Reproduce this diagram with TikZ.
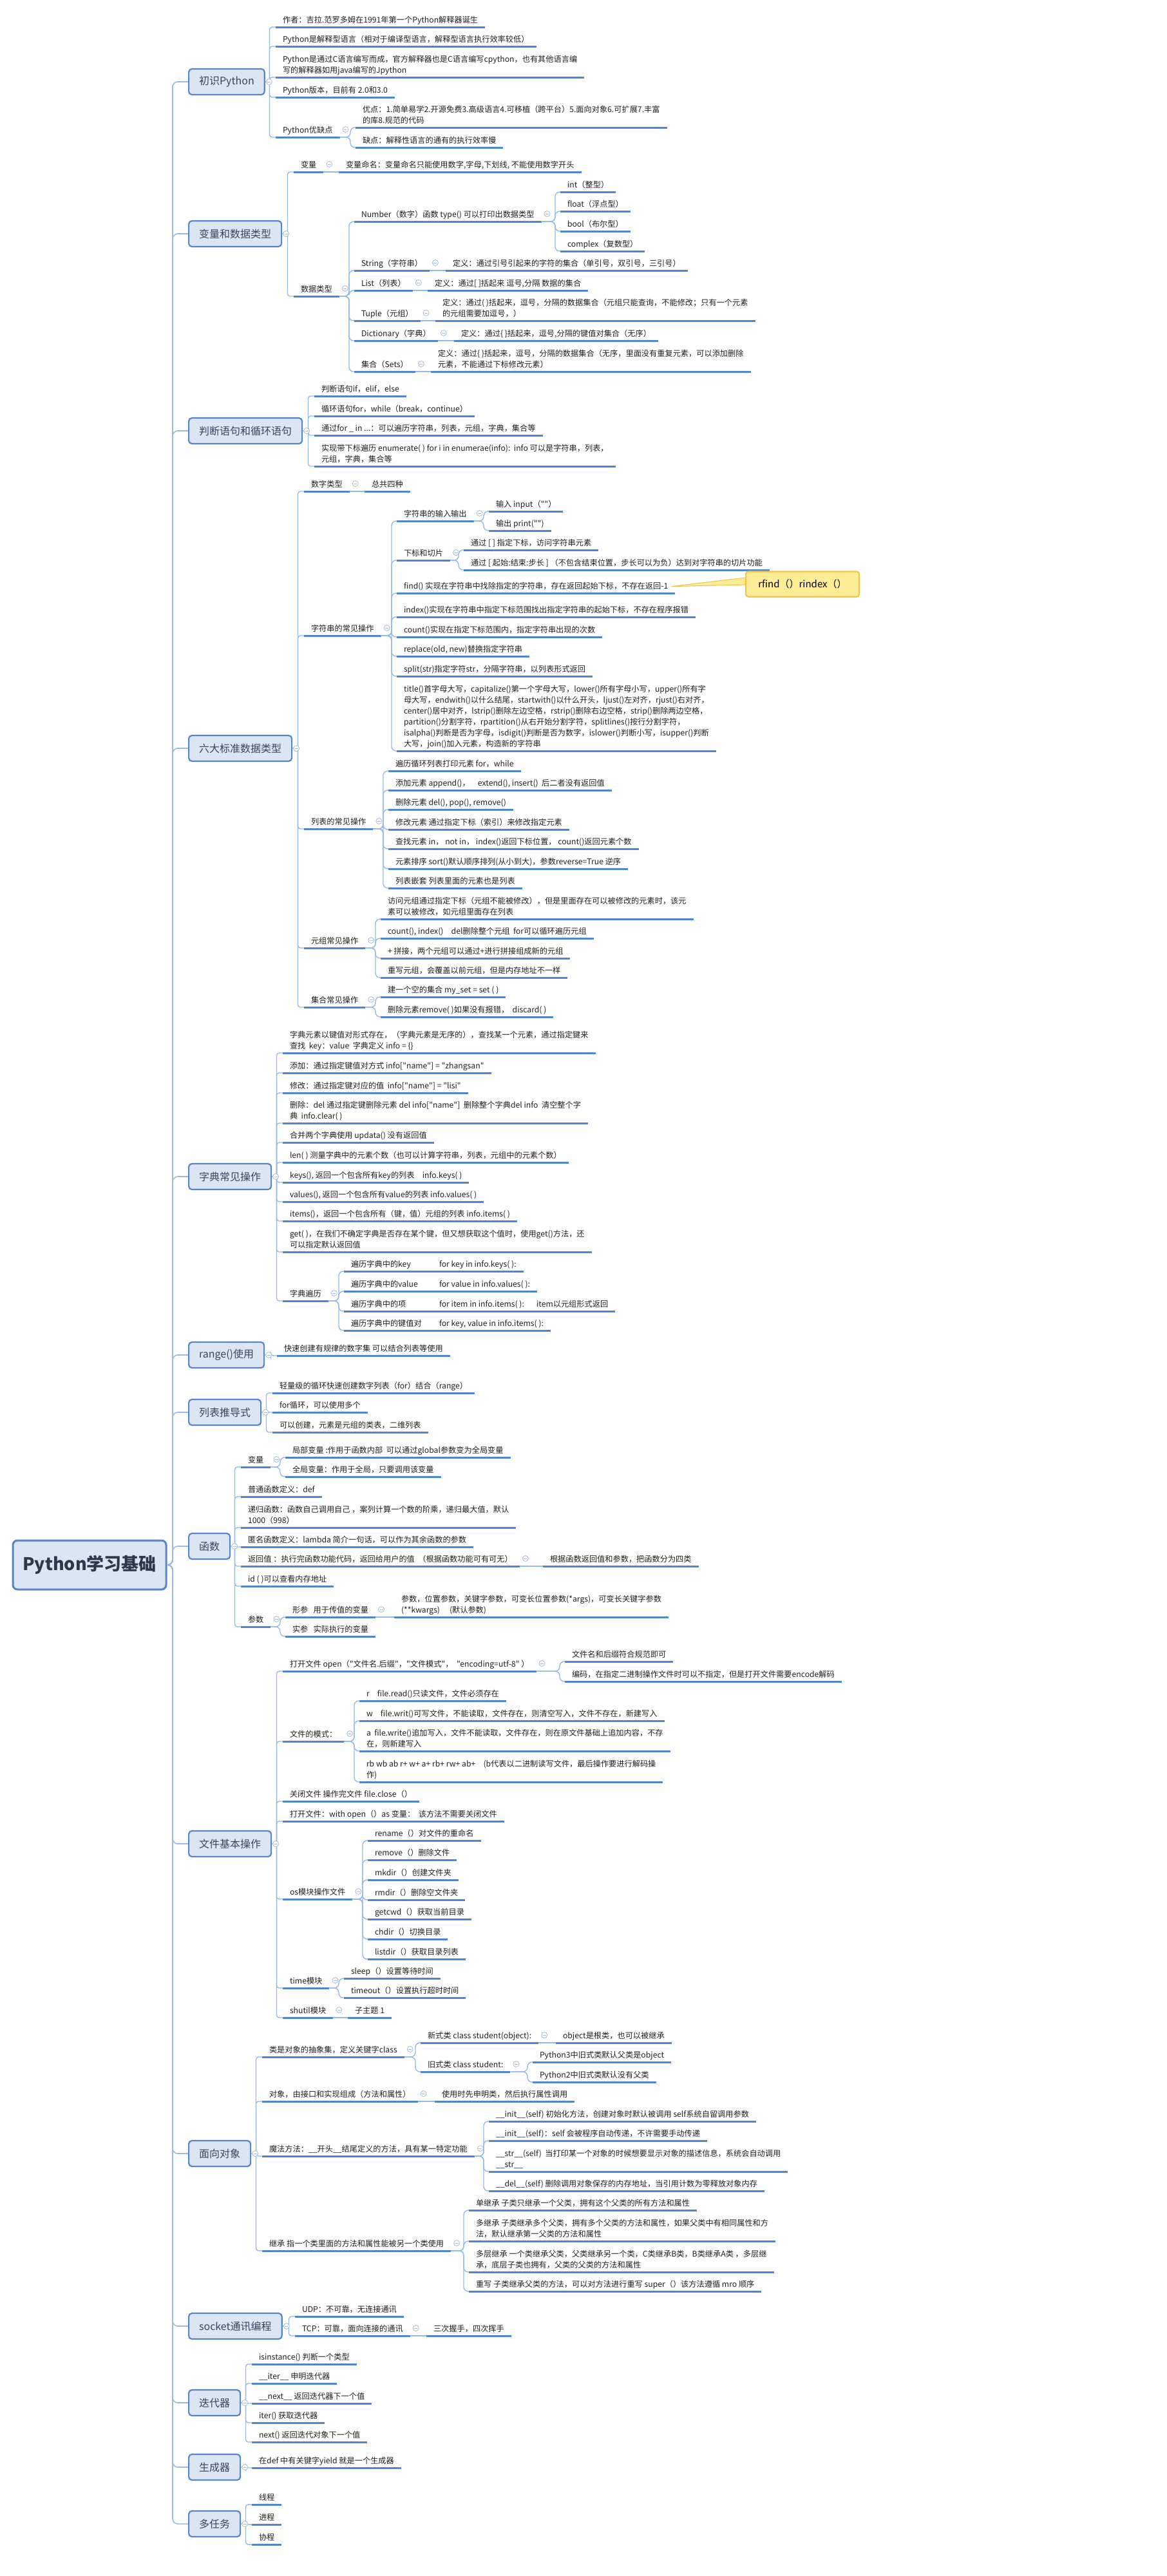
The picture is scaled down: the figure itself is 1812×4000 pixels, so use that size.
\documentclass[tikz,border=0pt]{standalone}
\usepackage{fontspec}
\setmainfont{Noto Sans CJK SC}[Ligatures=TeXOff]
\usepackage{tikz}
\usetikzlibrary{positioning,calc}
\definecolor{ulblue}{RGB}{80,134,205}
\definecolor{lnblue}{RGB}{150,186,230}
\definecolor{boxfill}{RGB}{219,229,243}
\definecolor{boxline}{RGB}{86,135,200}
\definecolor{boxtext}{RGB}{55,70,95}
\definecolor{foldc}{RGB}{165,188,218}
\definecolor{callfill}{RGB}{253,236,150}
\definecolor{callline}{RGB}{238,196,70}

\begin{document}
\begin{tikzpicture}[
    x=1pt, y=-1pt,
    rootbox/.style={rectangle, draw=boxline, fill=boxfill, line width=3pt, rounded corners=7pt, minimum width=238pt, minimum height=76pt, font=\fontsize{27}{32}\selectfont\bfseries, text=boxtext!80!black},
    topic/.style={rectangle, draw=boxline, fill=boxfill, line width=2.2pt, rounded corners=5pt, minimum height=40pt, inner xsep=16pt, anchor=west, font=\fontsize{16}{19}\selectfont, text=boxtext},
    leaf/.style={rectangle, inner xsep=11pt, inner ysep=3.5pt, outer sep=0pt, align=left, anchor=south west, font=\fontsize{12.2}{17}\selectfont, text=black!88, execute at end node={\rule[-3.5pt]{0pt}{0pt}}, append after command={(\tikzlastnode.south west) edge[uline] (\tikzlastnode.south east)}},
    uline/.style={draw=ulblue, line width=3pt},
    trunk/.style={draw=lnblue, line width=1.6pt, rounded corners=8pt},
    link/.style={draw=lnblue, line width=1.4pt, rounded corners=4pt},
    branch/.style={draw=lnblue, line width=1.4pt, rounded corners=7pt},
    fold/.style={circle, draw=foldc, fill=white, line width=0.8pt, minimum size=9pt, inner sep=0pt, path picture={\draw[foldc, line width=0.8pt] ([xshift=-2.5pt]path picture bounding box.center) -- ([xshift=2.5pt]path picture bounding box.center);}},
    callout/.style={rectangle, draw=callline, fill=callfill, line width=2pt, rounded corners=4pt, minimum width=176pt, minimum height=39pt, font=\fontsize{15}{18}\selectfont},
]

\fill[white] (0,0) rectangle (1812,4000);
\useasboundingbox (0,0) rectangle (1812,4000);

% === ROOT ===
\node[rootbox] (root) at (139,2430) {Python学习基础};

% === 初识Python ===
\node[topic] (intro) at (292,127) {初识Python};
\node[leaf] (intro_author) at (428,42) {作者：吉拉.范罗多姆在1991年第一个Python解释器诞生};
\node[leaf] (intro_interp) at (428,72) {Python是解释型语言（相对于编译型语言，解释型语言执行效率较低）};
\node[leaf] (intro_cpy) at (428,120) {Python是通过C语言编写而成，官方解释器也是C语言编写cpython，也有其他语言编\\写的解释器如用java编写的Jpython};
\node[leaf] (intro_ver) at (428,151) {Python版本，目前有 2.0和3.0};
\node[leaf] (intro_pc) at (428,213) {Python优缺点};
\node[leaf] (pc_good) at (552,198) {优点：1.简单易学2.开源免费3.高级语言4.可移植（跨平台）5.面向对象6.可扩展7.丰富\\的库8.规范的代码};
\node[leaf] (pc_bad) at (552,229) {缺点：解释性语言的通有的执行效率慢};

% === 变量和数据类型 ===
\node[topic] (vars) at (292,363) {变量和数据类型};
\node[leaf] (var) at (456,267) {变量};
\node[leaf] (var_name) at (526,267) {变量命名：变量命名只能使用数字,字母,下划线, 不能使用数字开头};
\node[leaf] (dtype) at (456,460) {数据类型};
\node[leaf] (dt_num) at (550,344) {Number（数字）函数 type() 可以打印出数据类型};
\node[leaf] (num_int) at (870,298) {int（整型）};
\node[leaf] (num_float) at (870,328) {float（浮点型）};
\node[leaf] (num_bool) at (870,359) {bool（布尔型）};
\node[leaf] (num_cplx) at (870,390) {complex（复数型）};
\node[leaf] (dt_str) at (550,420) {String（字符串）};
\node[leaf] (str_def) at (692,420) {定义：通过引号引起来的字符的集合（单引号，双引号，三引号）};
\node[leaf] (dt_list) at (550,451) {List（列表）};
\node[leaf] (list_def) at (664,451) {定义：通过[ ]括起来 逗号,分隔 数据的集合};
\node[leaf] (dt_tuple) at (550,498) {Tuple（元组）};
\node[leaf] (tuple_def) at (676,498) {定义：通过( )括起来，逗号，分隔的数据集合（元组只能查询，不能修改；只有一个元素\\的元组需要加逗号，）};
\node[leaf] (dt_dict) at (550,529) {Dictionary（字典）};
\node[leaf] (dict_def) at (705,529) {定义：通过\{ \}括起来，逗号,分隔的键值对集合（无序）};
\node[leaf] (dt_set) at (550,577) {集合（Sets）};
\node[leaf] (set_def) at (669,577) {定义：通过\{ \}括起来，逗号，分隔的数据集合（无序，里面没有重复元素，可以添加删除\\元素，不能通过下标修改元素）};

% === 判断语句和循环语句 ===
\node[topic] (flow) at (292,669) {判断语句和循环语句};
\node[leaf] (flow_if) at (488,615) {判断语句if，elif，else};
\node[leaf] (flow_loop) at (488,646) {循环语句for，while（break，continue）};
\node[leaf] (flow_forin) at (488,676) {通过for \_ in ...：可以遍历字符串，列表，元组，字典，集合等};
\node[leaf] (flow_enum) at (488,724) {实现带下标遍历 enumerate( ) for i in enumerae(info):\ \ info 可以是字符串，列表，\\元组，字典，集合等};

% === 六大标准数据类型 ===
\node[topic] (stdtypes) at (292,1162) {六大标准数据类型};
\node[leaf] (st_num) at (472,763) {数字类型};
\node[leaf] (num_four) at (566,763) {总共四种};
\node[leaf] (st_str) at (472,987) {字符串的常见操作};
\node[leaf] (str_io) at (616,809) {字符串的输入输出};
\node[leaf] (io_in) at (759,794) {输入 input（""）};
\node[leaf] (io_out) at (759,824) {输出 print("")};
\node[leaf] (str_slice) at (616,870) {下标和切片};
\node[leaf] (slice_idx) at (720,854) {通过 [ ] 指定下标，访问字符串元素};
\node[leaf] (slice_step) at (720,885) {通过 [ 起始:结束:步长 ] （不包含结束位置，步长可以为负）达到对字符串的切片功能};
\node[leaf] (str_find) at (616,921) {find() 实现在字符串中找除指定的字符串，存在返回起始下标，不存在返回-1};
\node[leaf] (str_index) at (616,958) {index()实现在字符串中指定下标范围找出指定字符串的起始下标，不存在程序报错};
\node[leaf] (str_count) at (616,989) {count()实现在指定下标范围内，指定字符串出现的次数};
\node[leaf] (str_replace) at (616,1019) {replace(old, new)替换指定字符串};
\node[leaf] (str_split) at (616,1050) {split(str)指定字符str，分隔字符串，以列表形式返回};
\node[leaf] (str_case) at (616,1166) {title()首字母大写，capitalize()第一个字母大写，lower()所有字母小写，upper()所有字\\母大写，endwith()以什么结尾，startwith()以什么开头，ljust()左对齐，rjust()右对齐，\\center()居中对齐，lstrip()删除左边空格，rstrip()删除右边空格，strip()删除两边空格，\\partition()分割字符，rpartition()从右开始分割字符，splitlines()按行分割字符，\\isalpha()判断是否为字母，isdigit()判断是否为数字，islower()判断小写，isupper()判断\\大写，join()加入元素，构造新的字符串};
\node[leaf] (st_list) at (472,1287) {列表的常见操作};
\node[leaf] (list_loop) at (603,1197) {遍历循环列表打印元素 for，while};
\node[leaf] (list_add) at (603,1227) {添加元素 append()，\quad extend(), insert()\ \ 后二者没有返回值};
\node[leaf] (list_del) at (603,1257) {删除元素 del(), pop(), remove()};
\node[leaf] (list_mod) at (603,1288) {修改元素 通过指定下标（索引）来修改指定元素};
\node[leaf] (list_find) at (603,1318) {查找元素 in， not in， index()返回下标位置， count()返回元素个数};
\node[leaf] (list_sort) at (603,1349) {元素排序 sort()默认顺序排列(从小到大)，参数reverse=True 逆序};
\node[leaf] (list_nest) at (603,1379) {列表嵌套 列表里面的元素也是列表};
\node[leaf] (st_tuple) at (472,1472) {元组常见操作};
\node[leaf] (tup_access) at (591,1427) {访问元组通过指定下标（元组不能被修改），但是里面存在可以被修改的元素时，该元\\素可以被修改，如元组里面存在列表};
\node[leaf] (tup_count) at (591,1457) {count(), index()\quad del删除整个元组\ \ for可以循环遍历元组};
\node[leaf] (tup_concat) at (591,1488) {+ 拼接，两个元组可以通过+进行拼接组成新的元组};
\node[leaf] (tup_rewrite) at (591,1518) {重写元组，会覆盖以前元组，但是内存地址不一样};
\node[leaf] (st_set) at (472,1564) {集合常见操作};
\node[leaf] (set_new) at (591,1548) {建一个空的集合 my\_set = set ( )};
\node[leaf] (set_del) at (591,1579) {删除元素remove( )如果没有报错，\ \ discard( )};

% === 字典常见操作 ===
\node[topic] (dict) at (292,1827) {字典常见操作};
\node[leaf] (dict_kv) at (439,1635) {字典元素以键值对形式存在，（字典元素是无序的），查找某一个元素，通过指定键来\\查找\ \ key：value\ \ 字典定义 info = \{\}};
\node[leaf] (dict_add) at (439,1666) {添加：通过指定键值对方式 info["name"] = "zhangsan"};
\node[leaf] (dict_mod) at (439,1697) {修改：通过指定键对应的值\ \ info["name"] = "lisi"};
\node[leaf] (dict_del) at (439,1744) {删除：del 通过指定键删除元素 del info["name"]\ \ 删除整个字典del info\ \ 清空整个字\\典\ \ info.clear( )};
\node[leaf] (dict_merge) at (439,1774) {合并两个字典使用 updata() 没有返回值};
\node[leaf] (dict_len) at (439,1805) {len( ) 测量字典中的元素个数（也可以计算字符串，列表，元组中的元素个数）};
\node[leaf] (dict_keys) at (439,1836) {keys(), 返回一个包含所有key的列表\quad info.keys( )};
\node[leaf] (dict_vals) at (439,1866) {values(), 返回一个包含所有value的列表 info.values( )};
\node[leaf] (dict_items) at (439,1896) {items()，返回一个包含所有（键，值）元组的列表 info.items( )};
\node[leaf] (dict_get) at (439,1944) {get( )，在我们不确定字典是否存在某个键，但又想获取这个值时，使用get()方法，还\\可以指定默认返回值};
\node[leaf] (dict_walk) at (439,2020) {字典遍历};
\node[leaf] (walk_key) at (534,1974) {\makebox[137pt][l]{遍历字典中的key}for key in info.keys( ):};
\node[leaf] (walk_val) at (534,2005) {\makebox[137pt][l]{遍历字典中的value}for value in info.values( ):};
\node[leaf] (walk_item) at (534,2036) {\makebox[137pt][l]{遍历字典中的项}\makebox[151pt][l]{for item in info.items( ):}item以元组形式返回};
\node[leaf] (walk_pair) at (534,2066) {\makebox[137pt][l]{遍历字典中的键值对}for key, value in info.items( ):};

% === range()使用 ===
\node[topic] (range) at (292,2104) {range()使用};
\node[leaf] (range_desc) at (430,2105) {快速创建有规律的数字集 可以结合列表等使用};

% === 列表推导式 ===
\node[topic] (listcomp) at (292,2193) {列表推导式};
\node[leaf] (lc_fast) at (423,2163) {轻量级的循环快速创建数字列表（for）结合（range）};
\node[leaf] (lc_for) at (423,2193) {for循环，可以使用多个};
\node[leaf] (lc_tuple) at (423,2224) {可以创建，元素是元组的类表，二维列表};

% === 函数 ===
\node[topic] (func) at (292,2401) {函数};
\node[leaf] (fn_var) at (374,2278) {变量};
\node[leaf] (fn_local) at (443,2263) {局部变量 :作用于函数内部\ \ 可以通过global参数变为全局变量};
\node[leaf] (fn_global) at (443,2293) {全局变量：作用于全局，只要调用该变量};
\node[leaf] (fn_def) at (374,2324) {普通函数定义：def};
\node[leaf] (fn_rec) at (374,2372) {递归函数：函数自己调用自己 ，案列计算一个数的阶乘，递归最大值，默认\\1000（998）};
\node[leaf] (fn_lambda) at (374,2402) {匿名函数定义：lambda 简介一句话，可以作为其余函数的参数};
\node[leaf] (fn_ret) at (374,2432) {返回值 ：执行完函数功能代码，返回给用户的值\ \ （根据函数功能可有可无）};
\node[leaf] (ret_four) at (843,2432) {根据函数返回值和参数，把函数分为四类};
\node[leaf] (fn_id) at (374,2463) {id ( )可以查看内存地址};
\node[leaf] (fn_arg) at (374,2526) {参数};
\node[leaf] (arg_formal) at (443,2511) {形参\ \ \ 用于传值的变量};
\node[leaf] (formal_kinds) at (612,2511) {参数，位置参数，关键字参数，可变长位置参数(*args)，可变长关键字参数\\(**kwargs)\quad\ (默认参数)};
\node[leaf] (arg_actual) at (443,2541) {实参\ \ \ 实际执行的变量};

% === 文件基本操作 ===
\node[topic] (fileop) at (292,2863) {文件基本操作};
\node[leaf] (f_open) at (439,2595) {打开文件 open（"文件名.后缀"，"文件模式"，\ \ "encoding=utf-8" ）};
\node[leaf] (open_name) at (877,2580) {文件名和后缀符合规范即可};
\node[leaf] (open_enc) at (877,2611) {编码，在指定二进制操作文件时可以不指定，但是打开文件需要encode解码};
\node[leaf] (f_mode) at (439,2704) {文件的模式：};
\node[leaf] (mode_r) at (558,2641) {r\quad file.read()只读文件，文件必须存在};
\node[leaf] (mode_w) at (558,2672) {w\quad file.writ()可写文件，不能读取，文件存在，则清空写入，文件不存在，新建写入};
\node[leaf] (mode_a) at (558,2719) {a\ \ file.write()追加写入，文件不能读取，文件存在，则在原文件基础上追加内容，不存\\在，则新建写入};
\node[leaf] (mode_b) at (558,2767) {rb wb ab r+ w+ a+ rb+ rw+ ab+\quad (b代表以二进制读写文件，最后操作要进行解码操\\作)};
\node[leaf] (f_close) at (439,2797) {关闭文件 操作完文件 file.close（）};
\node[leaf] (f_with) at (439,2828) {打开文件：with open（）as 变量：\ \ 该方法不需要关闭文件};
\node[leaf] (f_os) at (439,2949) {os模块操作文件};
\node[leaf] (os_rename) at (571,2858) {rename（）对文件的重命名};
\node[leaf] (os_remove) at (571,2888) {remove（）删除文件};
\node[leaf] (os_mkdir) at (571,2919) {mkdir（）创建文件夹};
\node[leaf] (os_rmdir) at (571,2950) {rmdir（）删除空文件夹};
\node[leaf] (os_getcwd) at (571,2980) {getcwd（）获取当前目录};
\node[leaf] (os_chdir) at (571,3011) {chdir（）切换目录};
\node[leaf] (os_listdir) at (571,3042) {listdir（）获取目录列表};
\node[leaf] (f_time) at (439,3087) {time模块};
\node[leaf] (time_sleep) at (534,3072) {sleep（）设置等待时间};
\node[leaf] (time_out) at (534,3102) {timeout（）设置执行超时时间};
\node[leaf] (f_shutil) at (439,3133) {shutil模块};
\node[leaf] (shutil_sub) at (540,3133) {子主题 1};

% === 面向对象 ===
\node[topic] (oop) at (292,3344) {面向对象};
\node[leaf] (oop_class) at (407,3194) {类是对象的抽象集，定义关键字class};
\node[leaf] (cls_new) at (653,3172) {新式类 class student(object):};
\node[leaf] (new_root) at (863,3172) {object是根类，也可以被继承};
\node[leaf] (cls_old) at (653,3217) {旧式类 class student:};
\node[leaf] (old_py3) at (827,3202) {Python3中旧式类默认父类是object};
\node[leaf] (old_py2) at (827,3233) {Python2中旧式类默认没有父类};
\node[leaf] (oop_obj) at (407,3263) {对象，由接口和实现组成（方法和属性）};
\node[leaf] (obj_use) at (675,3263) {使用时先申明类，然后执行属性调用};
\node[leaf] (oop_magic) at (407,3348) {魔法方法：\_\_开头\_\_结尾定义的方法，具有某一特定功能};
\node[leaf] (mg_init) at (759,3294) {\_\_init\_\_(self) 初始化方法，创建对象时默认被调用 self系统自留调用参数};
\node[leaf] (mg_self) at (759,3324) {\_\_init\_\_(self)：self 会被程序自动传递，不许需要手动传递};
\node[leaf] (mg_str) at (759,3372) {\_\_str\_\_(self)\ \ 当打印某一个对象的时候想要显示对象的描述信息，系统会自动调用\\\_\_str\_\_};
\node[leaf] (mg_del) at (759,3402) {\_\_del\_\_(self) 删除调用对象保存的内存地址，当引用计数为零释放对象内存};
\node[leaf] (oop_inh) at (407,3495) {继承 指一个类里面的方法和属性能被另一个类使用};
\node[leaf] (inh_single) at (728,3432) {单继承 子类只继承一个父类，拥有这个父类的所有方法和属性};
\node[leaf] (inh_multi) at (728,3480) {多继承 子类继承多个父类，拥有多个父类的方法和属性，如果父类中有相同属性和方\\法，默认继承第一父类的方法和属性};
\node[leaf] (inh_level) at (728,3528) {多层继承 一个类继承父类，父类继承另一个类，C类继承B类，B类继承A类 ，多层继\\承，底层子类也拥有，父类的父类的方法和属性};
\node[leaf] (inh_over) at (728,3558) {重写 子类继承父类的方法，可以对方法进行重写 super（）该方法遵循 mro 顺序};

% === socket通讯编程 ===
\node[topic] (socket) at (292,3612) {socket通讯编程};
\node[leaf] (sk_udp) at (458,3597) {UDP：不可靠，无连接通讯};
\node[leaf] (sk_tcp) at (458,3627) {TCP：可靠，面向连接的通讯};
\node[leaf] (tcp_hand) at (662,3627) {三次握手，四次挥手};

% === 迭代器 / 生成器 / 多任务 ===
\node[topic] (iter) at (292,3731) {迭代器};
\node[leaf] (it_isinst) at (391,3671) {isinstance() 判断一个类型};
\node[leaf] (it_iter) at (391,3701) {\_\_iter\_\_ 申明迭代器};
\node[leaf] (it_next) at (391,3732) {\_\_next\_\_ 返回迭代器下一个值};
\node[leaf] (it_iterfn) at (391,3762) {iter() 获取迭代器};
\node[leaf] (it_nextfn) at (391,3792) {next() 返回迭代对象下一个值};
\node[topic] (gen) at (292,3831) {生成器};
\node[leaf] (gen_yield) at (391,3832) {在def 中有关键字yield 就是一个生成器};
\node[topic] (multi) at (292,3919) {多任务};
\node[leaf] (mt_thread) at (391,3889) {线程};
\node[leaf] (mt_proc) at (391,3920) {进程};
\node[leaf] (mt_coro) at (391,3951) {协程};

% === CALLOUT ===
\node[callout] (rfind) at (1246,907) {rfind（）rindex（）};
\filldraw[fill=callfill, draw=callline, line width=1pt] ([xshift=-6]str_find.east) -- ([yshift=10]rfind.west) -- ([yshift=-1]rfind.west) -- cycle;
\node[callout] at (rfind) {rfind（）rindex（）};

% === TRUNK ===
\draw[trunk] (root.east) -| ([xshift=-24]intro.west) -- (intro.west);
\draw[trunk] (root.east) -| ([xshift=-24]vars.west) -- (vars.west);
\draw[trunk] (root.east) -| ([xshift=-24]flow.west) -- (flow.west);
\draw[trunk] (root.east) -| ([xshift=-24]stdtypes.west) -- (stdtypes.west);
\draw[trunk] (root.east) -| ([xshift=-24]dict.west) -- (dict.west);
\draw[trunk] (root.east) -| ([xshift=-24]range.west) -- (range.west);
\draw[trunk] (root.east) -| ([xshift=-24]listcomp.west) -- (listcomp.west);
\draw[trunk] (root.east) -| ([xshift=-24]func.west) -- (func.west);
\draw[trunk] (root.east) -| ([xshift=-24]fileop.west) -- (fileop.west);
\draw[trunk] (root.east) -| ([xshift=-24]oop.west) -- (oop.west);
\draw[trunk] (root.east) -| ([xshift=-24]socket.west) -- (socket.west);
\draw[trunk] (root.east) -| ([xshift=-24]iter.west) -- (iter.west);
\draw[trunk] (root.east) -| ([xshift=-24]gen.west) -- (gen.west);
\draw[trunk] (root.east) -| ([xshift=-24]multi.west) -- (multi.west);

% === LINKS ===
\draw[link] (intro.east) -| ([xshift=-9.5]intro_author.south west) -- (intro_author.south west);
\draw[link] (intro.east) -| ([xshift=-9.5]intro_interp.south west) -- (intro_interp.south west);
\draw[link] (intro.east) -| ([xshift=-9.5]intro_cpy.south west) -- (intro_cpy.south west);
\draw[link] (intro.east) -| ([xshift=-9.5]intro_ver.south west) -- (intro_ver.south west);
\draw[link] (intro.east) -| ([xshift=-9.5]intro_pc.south west) -- (intro_pc.south west);
\draw[branch] (intro_pc.south east) -| ([xshift=-8]pc_good.south west) -- (pc_good.south west);
\draw[branch] (intro_pc.south east) -| ([xshift=-8]pc_bad.south west) -- (pc_bad.south west);

\draw[link] (vars.east) -| ([xshift=-9.5]var.south west) -- (var.south west);
\draw[link] (vars.east) -| ([xshift=-9.5]dtype.south west) -- (dtype.south west);
\draw[branch] (var.south east) -- (var_name.south west);
\draw[branch] (dtype.south east) -| ([xshift=-8]dt_num.south west) -- (dt_num.south west);
\draw[branch] (dtype.south east) -| ([xshift=-8]dt_str.south west) -- (dt_str.south west);
\draw[branch] (dtype.south east) -| ([xshift=-8]dt_list.south west) -- (dt_list.south west);
\draw[branch] (dtype.south east) -| ([xshift=-8]dt_tuple.south west) -- (dt_tuple.south west);
\draw[branch] (dtype.south east) -| ([xshift=-8]dt_dict.south west) -- (dt_dict.south west);
\draw[branch] (dtype.south east) -| ([xshift=-8]dt_set.south west) -- (dt_set.south west);
\draw[branch] (dt_num.south east) -| ([xshift=-8]num_int.south west) -- (num_int.south west);
\draw[branch] (dt_num.south east) -| ([xshift=-8]num_float.south west) -- (num_float.south west);
\draw[branch] (dt_num.south east) -| ([xshift=-8]num_bool.south west) -- (num_bool.south west);
\draw[branch] (dt_num.south east) -| ([xshift=-8]num_cplx.south west) -- (num_cplx.south west);
\draw[branch] (dt_str.south east) -- (str_def.south west);
\draw[branch] (dt_list.south east) -- (list_def.south west);
\draw[branch] (dt_tuple.south east) -- (tuple_def.south west);
\draw[branch] (dt_dict.south east) -- (dict_def.south west);
\draw[branch] (dt_set.south east) -- (set_def.south west);

\draw[link] (flow.east) -| ([xshift=-9.5]flow_if.south west) -- (flow_if.south west);
\draw[link] (flow.east) -| ([xshift=-9.5]flow_loop.south west) -- (flow_loop.south west);
\draw[link] (flow.east) -| ([xshift=-9.5]flow_forin.south west) -- (flow_forin.south west);
\draw[link] (flow.east) -| ([xshift=-9.5]flow_enum.south west) -- (flow_enum.south west);

\draw[link] (stdtypes.east) -| ([xshift=-9.5]st_num.south west) -- (st_num.south west);
\draw[link] (stdtypes.east) -| ([xshift=-9.5]st_str.south west) -- (st_str.south west);
\draw[link] (stdtypes.east) -| ([xshift=-9.5]st_list.south west) -- (st_list.south west);
\draw[link] (stdtypes.east) -| ([xshift=-9.5]st_tuple.south west) -- (st_tuple.south west);
\draw[link] (stdtypes.east) -| ([xshift=-9.5]st_set.south west) -- (st_set.south west);
\draw[branch] (st_num.south east) -- (num_four.south west);
\draw[branch] (st_str.south east) -| ([xshift=-8]str_io.south west) -- (str_io.south west);
\draw[branch] (st_str.south east) -| ([xshift=-8]str_slice.south west) -- (str_slice.south west);
\draw[branch] (st_str.south east) -| ([xshift=-8]str_find.south west) -- (str_find.south west);
\draw[branch] (st_str.south east) -| ([xshift=-8]str_index.south west) -- (str_index.south west);
\draw[branch] (st_str.south east) -| ([xshift=-8]str_count.south west) -- (str_count.south west);
\draw[branch] (st_str.south east) -| ([xshift=-8]str_replace.south west) -- (str_replace.south west);
\draw[branch] (st_str.south east) -| ([xshift=-8]str_split.south west) -- (str_split.south west);
\draw[branch] (st_str.south east) -| ([xshift=-8]str_case.south west) -- (str_case.south west);
\draw[branch] (str_io.south east) -| ([xshift=-8]io_in.south west) -- (io_in.south west);
\draw[branch] (str_io.south east) -| ([xshift=-8]io_out.south west) -- (io_out.south west);
\draw[branch] (str_slice.south east) -| ([xshift=-8]slice_idx.south west) -- (slice_idx.south west);
\draw[branch] (str_slice.south east) -| ([xshift=-8]slice_step.south west) -- (slice_step.south west);
\draw[branch] (st_list.south east) -| ([xshift=-8]list_loop.south west) -- (list_loop.south west);
\draw[branch] (st_list.south east) -| ([xshift=-8]list_add.south west) -- (list_add.south west);
\draw[branch] (st_list.south east) -| ([xshift=-8]list_del.south west) -- (list_del.south west);
\draw[branch] (st_list.south east) -| ([xshift=-8]list_mod.south west) -- (list_mod.south west);
\draw[branch] (st_list.south east) -| ([xshift=-8]list_find.south west) -- (list_find.south west);
\draw[branch] (st_list.south east) -| ([xshift=-8]list_sort.south west) -- (list_sort.south west);
\draw[branch] (st_list.south east) -| ([xshift=-8]list_nest.south west) -- (list_nest.south west);
\draw[branch] (st_tuple.south east) -| ([xshift=-8]tup_access.south west) -- (tup_access.south west);
\draw[branch] (st_tuple.south east) -| ([xshift=-8]tup_count.south west) -- (tup_count.south west);
\draw[branch] (st_tuple.south east) -| ([xshift=-8]tup_concat.south west) -- (tup_concat.south west);
\draw[branch] (st_tuple.south east) -| ([xshift=-8]tup_rewrite.south west) -- (tup_rewrite.south west);
\draw[branch] (st_set.south east) -| ([xshift=-8]set_new.south west) -- (set_new.south west);
\draw[branch] (st_set.south east) -| ([xshift=-8]set_del.south west) -- (set_del.south west);

\draw[link] (dict.east) -| ([xshift=-9.5]dict_kv.south west) -- (dict_kv.south west);
\draw[link] (dict.east) -| ([xshift=-9.5]dict_add.south west) -- (dict_add.south west);
\draw[link] (dict.east) -| ([xshift=-9.5]dict_mod.south west) -- (dict_mod.south west);
\draw[link] (dict.east) -| ([xshift=-9.5]dict_del.south west) -- (dict_del.south west);
\draw[link] (dict.east) -| ([xshift=-9.5]dict_merge.south west) -- (dict_merge.south west);
\draw[link] (dict.east) -| ([xshift=-9.5]dict_len.south west) -- (dict_len.south west);
\draw[link] (dict.east) -| ([xshift=-9.5]dict_keys.south west) -- (dict_keys.south west);
\draw[link] (dict.east) -| ([xshift=-9.5]dict_vals.south west) -- (dict_vals.south west);
\draw[link] (dict.east) -| ([xshift=-9.5]dict_items.south west) -- (dict_items.south west);
\draw[link] (dict.east) -| ([xshift=-9.5]dict_get.south west) -- (dict_get.south west);
\draw[link] (dict.east) -| ([xshift=-9.5]dict_walk.south west) -- (dict_walk.south west);
\draw[branch] (dict_walk.south east) -| ([xshift=-8]walk_key.south west) -- (walk_key.south west);
\draw[branch] (dict_walk.south east) -| ([xshift=-8]walk_val.south west) -- (walk_val.south west);
\draw[branch] (dict_walk.south east) -| ([xshift=-8]walk_item.south west) -- (walk_item.south west);
\draw[branch] (dict_walk.south east) -| ([xshift=-8]walk_pair.south west) -- (walk_pair.south west);

\draw[link] (range.east) -| ([xshift=-9.5]range_desc.south west) -- (range_desc.south west);

\draw[link] (listcomp.east) -| ([xshift=-9.5]lc_fast.south west) -- (lc_fast.south west);
\draw[link] (listcomp.east) -| ([xshift=-9.5]lc_for.south west) -- (lc_for.south west);
\draw[link] (listcomp.east) -| ([xshift=-9.5]lc_tuple.south west) -- (lc_tuple.south west);

\draw[link] (func.east) -| ([xshift=-9.5]fn_var.south west) -- (fn_var.south west);
\draw[link] (func.east) -| ([xshift=-9.5]fn_def.south west) -- (fn_def.south west);
\draw[link] (func.east) -| ([xshift=-9.5]fn_rec.south west) -- (fn_rec.south west);
\draw[link] (func.east) -| ([xshift=-9.5]fn_lambda.south west) -- (fn_lambda.south west);
\draw[link] (func.east) -| ([xshift=-9.5]fn_ret.south west) -- (fn_ret.south west);
\draw[link] (func.east) -| ([xshift=-9.5]fn_id.south west) -- (fn_id.south west);
\draw[link] (func.east) -| ([xshift=-9.5]fn_arg.south west) -- (fn_arg.south west);
\draw[branch] (fn_var.south east) -| ([xshift=-8]fn_local.south west) -- (fn_local.south west);
\draw[branch] (fn_var.south east) -| ([xshift=-8]fn_global.south west) -- (fn_global.south west);
\draw[branch] (fn_ret.south east) -- (ret_four.south west);
\draw[branch] (fn_arg.south east) -| ([xshift=-8]arg_formal.south west) -- (arg_formal.south west);
\draw[branch] (fn_arg.south east) -| ([xshift=-8]arg_actual.south west) -- (arg_actual.south west);
\draw[branch] (arg_formal.south east) -- (formal_kinds.south west);

\draw[link] (fileop.east) -| ([xshift=-9.5]f_open.south west) -- (f_open.south west);
\draw[link] (fileop.east) -| ([xshift=-9.5]f_mode.south west) -- (f_mode.south west);
\draw[link] (fileop.east) -| ([xshift=-9.5]f_close.south west) -- (f_close.south west);
\draw[link] (fileop.east) -| ([xshift=-9.5]f_with.south west) -- (f_with.south west);
\draw[link] (fileop.east) -| ([xshift=-9.5]f_os.south west) -- (f_os.south west);
\draw[link] (fileop.east) -| ([xshift=-9.5]f_time.south west) -- (f_time.south west);
\draw[link] (fileop.east) -| ([xshift=-9.5]f_shutil.south west) -- (f_shutil.south west);
\draw[branch] (f_open.south east) -| ([xshift=-8]open_name.south west) -- (open_name.south west);
\draw[branch] (f_open.south east) -| ([xshift=-8]open_enc.south west) -- (open_enc.south west);
\draw[branch] (f_mode.south east) -| ([xshift=-8]mode_r.south west) -- (mode_r.south west);
\draw[branch] (f_mode.south east) -| ([xshift=-8]mode_w.south west) -- (mode_w.south west);
\draw[branch] (f_mode.south east) -| ([xshift=-8]mode_a.south west) -- (mode_a.south west);
\draw[branch] (f_mode.south east) -| ([xshift=-8]mode_b.south west) -- (mode_b.south west);
\draw[branch] (f_os.south east) -| ([xshift=-8]os_rename.south west) -- (os_rename.south west);
\draw[branch] (f_os.south east) -| ([xshift=-8]os_remove.south west) -- (os_remove.south west);
\draw[branch] (f_os.south east) -| ([xshift=-8]os_mkdir.south west) -- (os_mkdir.south west);
\draw[branch] (f_os.south east) -| ([xshift=-8]os_rmdir.south west) -- (os_rmdir.south west);
\draw[branch] (f_os.south east) -| ([xshift=-8]os_getcwd.south west) -- (os_getcwd.south west);
\draw[branch] (f_os.south east) -| ([xshift=-8]os_chdir.south west) -- (os_chdir.south west);
\draw[branch] (f_os.south east) -| ([xshift=-8]os_listdir.south west) -- (os_listdir.south west);
\draw[branch] (f_time.south east) -| ([xshift=-8]time_sleep.south west) -- (time_sleep.south west);
\draw[branch] (f_time.south east) -| ([xshift=-8]time_out.south west) -- (time_out.south west);
\draw[branch] (f_shutil.south east) -- (shutil_sub.south west);

\draw[link] (oop.east) -| ([xshift=-9.5]oop_class.south west) -- (oop_class.south west);
\draw[link] (oop.east) -| ([xshift=-9.5]oop_obj.south west) -- (oop_obj.south west);
\draw[link] (oop.east) -| ([xshift=-9.5]oop_magic.south west) -- (oop_magic.south west);
\draw[link] (oop.east) -| ([xshift=-9.5]oop_inh.south west) -- (oop_inh.south west);
\draw[branch] (oop_class.south east) -| ([xshift=-8]cls_new.south west) -- (cls_new.south west);
\draw[branch] (oop_class.south east) -| ([xshift=-8]cls_old.south west) -- (cls_old.south west);
\draw[branch] (cls_new.south east) -- (new_root.south west);
\draw[branch] (cls_old.south east) -| ([xshift=-8]old_py3.south west) -- (old_py3.south west);
\draw[branch] (cls_old.south east) -| ([xshift=-8]old_py2.south west) -- (old_py2.south west);
\draw[branch] (oop_obj.south east) -- (obj_use.south west);
\draw[branch] (oop_magic.south east) -| ([xshift=-8]mg_init.south west) -- (mg_init.south west);
\draw[branch] (oop_magic.south east) -| ([xshift=-8]mg_self.south west) -- (mg_self.south west);
\draw[branch] (oop_magic.south east) -| ([xshift=-8]mg_str.south west) -- (mg_str.south west);
\draw[branch] (oop_magic.south east) -| ([xshift=-8]mg_del.south west) -- (mg_del.south west);
\draw[branch] (oop_inh.south east) -| ([xshift=-8]inh_single.south west) -- (inh_single.south west);
\draw[branch] (oop_inh.south east) -| ([xshift=-8]inh_multi.south west) -- (inh_multi.south west);
\draw[branch] (oop_inh.south east) -| ([xshift=-8]inh_level.south west) -- (inh_level.south west);
\draw[branch] (oop_inh.south east) -| ([xshift=-8]inh_over.south west) -- (inh_over.south west);

\draw[link] (socket.east) -| ([xshift=-9.5]sk_udp.south west) -- (sk_udp.south west);
\draw[link] (socket.east) -| ([xshift=-9.5]sk_tcp.south west) -- (sk_tcp.south west);
\draw[branch] (sk_tcp.south east) -- (tcp_hand.south west);

\draw[link] (iter.east) -| ([xshift=-9.5]it_isinst.south west) -- (it_isinst.south west);
\draw[link] (iter.east) -| ([xshift=-9.5]it_iter.south west) -- (it_iter.south west);
\draw[link] (iter.east) -| ([xshift=-9.5]it_next.south west) -- (it_next.south west);
\draw[link] (iter.east) -| ([xshift=-9.5]it_iterfn.south west) -- (it_iterfn.south west);
\draw[link] (iter.east) -| ([xshift=-9.5]it_nextfn.south west) -- (it_nextfn.south west);
\draw[link] (gen.east) -| ([xshift=-9.5]gen_yield.south west) -- (gen_yield.south west);
\draw[link] (multi.east) -| ([xshift=-9.5]mt_thread.south west) -- (mt_thread.south west);
\draw[link] (multi.east) -| ([xshift=-9.5]mt_proc.south west) -- (mt_proc.south west);
\draw[link] (multi.east) -| ([xshift=-9.5]mt_coro.south west) -- (mt_coro.south west);

% === FOLD MARKERS ===
\node[fold] at ([xshift=6]intro.east) {};
\node[fold] at ([xshift=6]vars.east) {};
\node[fold] at ([xshift=6]flow.east) {};
\node[fold] at ([xshift=6]stdtypes.east) {};
\node[fold] at ([xshift=6]dict.east) {};
\node[fold] at ([xshift=6]range.east) {};
\node[fold] at ([xshift=6]listcomp.east) {};
\node[fold] at ([xshift=6]func.east) {};
\node[fold] at ([xshift=6]fileop.east) {};
\node[fold] at ([xshift=6]oop.east) {};
\node[fold] at ([xshift=6]socket.east) {};
\node[fold] at ([xshift=6]iter.east) {};
\node[fold] at ([xshift=6]gen.east) {};
\node[fold] at ([xshift=6]multi.east) {};
\node[fold] at ([xshift=9,yshift=12]intro_pc.south east) {};
\node[fold] at ([xshift=9,yshift=12]var.south east) {};
\node[fold] at ([xshift=9,yshift=12]dtype.south east) {};
\node[fold] at ([xshift=9,yshift=12]dt_num.south east) {};
\node[fold] at ([xshift=9,yshift=12]dt_str.south east) {};
\node[fold] at ([xshift=9,yshift=12]dt_list.south east) {};
\node[fold] at ([xshift=9,yshift=12]dt_tuple.south east) {};
\node[fold] at ([xshift=9,yshift=12]dt_dict.south east) {};
\node[fold] at ([xshift=9,yshift=12]dt_set.south east) {};
\node[fold] at ([xshift=9,yshift=12]st_num.south east) {};
\node[fold] at ([xshift=9,yshift=12]st_str.south east) {};
\node[fold] at ([xshift=9,yshift=12]str_io.south east) {};
\node[fold] at ([xshift=9,yshift=12]str_slice.south east) {};
\node[fold] at ([xshift=9,yshift=12]st_list.south east) {};
\node[fold] at ([xshift=9,yshift=12]st_tuple.south east) {};
\node[fold] at ([xshift=9,yshift=12]st_set.south east) {};
\node[fold] at ([xshift=9,yshift=12]dict_walk.south east) {};
\node[fold] at ([xshift=9,yshift=12]fn_var.south east) {};
\node[fold] at ([xshift=9,yshift=12]fn_ret.south east) {};
\node[fold] at ([xshift=9,yshift=12]fn_arg.south east) {};
\node[fold] at ([xshift=9,yshift=12]arg_formal.south east) {};
\node[fold] at ([xshift=9,yshift=12]f_open.south east) {};
\node[fold] at ([xshift=9,yshift=12]f_mode.south east) {};
\node[fold] at ([xshift=9,yshift=12]f_os.south east) {};
\node[fold] at ([xshift=9,yshift=12]f_time.south east) {};
\node[fold] at ([xshift=9,yshift=12]f_shutil.south east) {};
\node[fold] at ([xshift=9,yshift=12]oop_class.south east) {};
\node[fold] at ([xshift=9,yshift=12]cls_new.south east) {};
\node[fold] at ([xshift=9,yshift=12]cls_old.south east) {};
\node[fold] at ([xshift=9,yshift=12]oop_obj.south east) {};
\node[fold] at ([xshift=9,yshift=12]oop_magic.south east) {};
\node[fold] at ([xshift=9,yshift=12]oop_inh.south east) {};
\node[fold] at ([xshift=9,yshift=12]sk_tcp.south east) {};

\end{tikzpicture}
\end{document}
